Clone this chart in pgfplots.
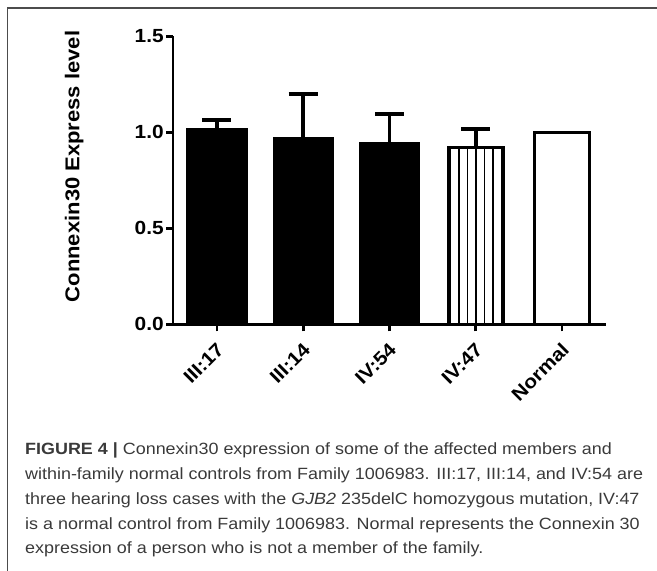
\documentclass[border=0pt]{standalone}
\usepackage{fontspec}
\setmainfont{Liberation Sans}[FakeStretch=1.1]
\usepackage{pgfplots}
\pgfplotsset{compat=1.18}
\usetikzlibrary{patterns.meta}
\definecolor{captext}{HTML}{3A3A3A}
\begin{document}
\begin{tikzpicture}
\path[use as bounding box] (0pt,0pt) rectangle (657pt,-571pt);
\draw[line width=1.5pt, black!70] (7.3pt,-571pt) -- (7.3pt,-8pt) -- (657pt,-8pt);
\begin{axis}[
  scale only axis, width=433pt, height=288pt,
  anchor=south west, at={(173pt,-324.3pt)},
  xmin=-0.51, xmax=4.51, ymin=0, ymax=1.5,
  axis x line=bottom, axis y line=left,
  axis line style={line width=2.6pt, -},
  xtick={0,1,2,3,4},
  xticklabels={III:17,III:14,IV:54,IV:47,Normal},
  ytick={0,0.5,1,1.5},
  yticklabel style={/pgf/number format/fixed, /pgf/number format/fixed zerofill, /pgf/number format/precision=1, /pgf/number format/assume math mode=true, inner sep=2pt, font=\fontsize{19}{21}\selectfont\bfseries},
  xticklabel style={rotate=45, anchor=east, inner sep=1pt, yshift=-13pt, xshift=-7pt, font=\fontsize{19}{21}\selectfont\bfseries},
  tick style={line width=2.6pt, black},
  major tick length=7pt,
  tick align=outside,
  ylabel={Connexin30 Express level},
  ylabel style={font=\fontsize{20}{22}\selectfont\bfseries, at={(axis description cs:-0.228,0.548)}, anchor=center, rotate=0},
  clip=false,
]
\addplot[ybar, bar shift=0pt, bar width=0.685, fill=black, draw=black, line width=2pt,
  error bars/.cd, y dir=plus, y explicit,
  error bar style={line width=3.8pt, black},
  error mark options={rotate=90, mark size=14.5pt, line width=3.8pt, black}]
  coordinates {(0,1.016) +- (0,0.048)};
\addplot[ybar, bar shift=0pt, bar width=0.685, fill=black, draw=black, line width=2pt,
  error bars/.cd, y dir=plus, y explicit,
  error bar style={line width=3.8pt, black},
  error mark options={rotate=90, mark size=14.5pt, line width=3.8pt, black}]
  coordinates {(1,0.969) +- (0,0.230)};
\addplot[ybar, bar shift=0pt, bar width=0.685, fill=black, draw=black, line width=2pt,
  error bars/.cd, y dir=plus, y explicit,
  error bar style={line width=3.8pt, black},
  error mark options={rotate=90, mark size=14.5pt, line width=3.8pt, black}]
  coordinates {(2,0.946) +- (0,0.148)};
\addplot[ybar, bar shift=0pt, bar width=0.64, draw=black, line width=3pt,
  pattern={Lines[angle=90, distance=8.5pt, line width=1.4pt]}, pattern color=black,
  error bars/.cd, y dir=plus, y explicit,
  error bar style={line width=3.8pt, black},
  error mark options={rotate=90, mark size=14.5pt, line width=3.8pt, black}]
  coordinates {(3,0.92) +- (0,0.097)};
\addplot[ybar, bar shift=0pt, bar width=0.64, fill=white, draw=black, line width=3pt]
  coordinates {(4,1.0)};
\end{axis}
\begin{scope}[every node/.style={anchor=base west, inner sep=0pt, text=captext, font=\fontsize{16.3}{20}\selectfont}]
\node at (25pt,-454.3pt) {\textbf{FIGURE 4 |} Connexin30 expression of some of the affected members and};
\node at (25pt,-479pt) {within-family normal controls from Family 1006983. III:17, III:14, and IV:54 are};
\node at (25pt,-504pt) {three hearing loss cases with the \textit{GJB2} 235delC homozygous mutation, IV:47};
\node at (25pt,-529pt) {is a normal control from Family 1006983. Normal represents the Connexin 30};
\node at (25pt,-553.5pt) {expression of a person who is not a member of the family.};
\end{scope}
\end{tikzpicture}
\end{document}
